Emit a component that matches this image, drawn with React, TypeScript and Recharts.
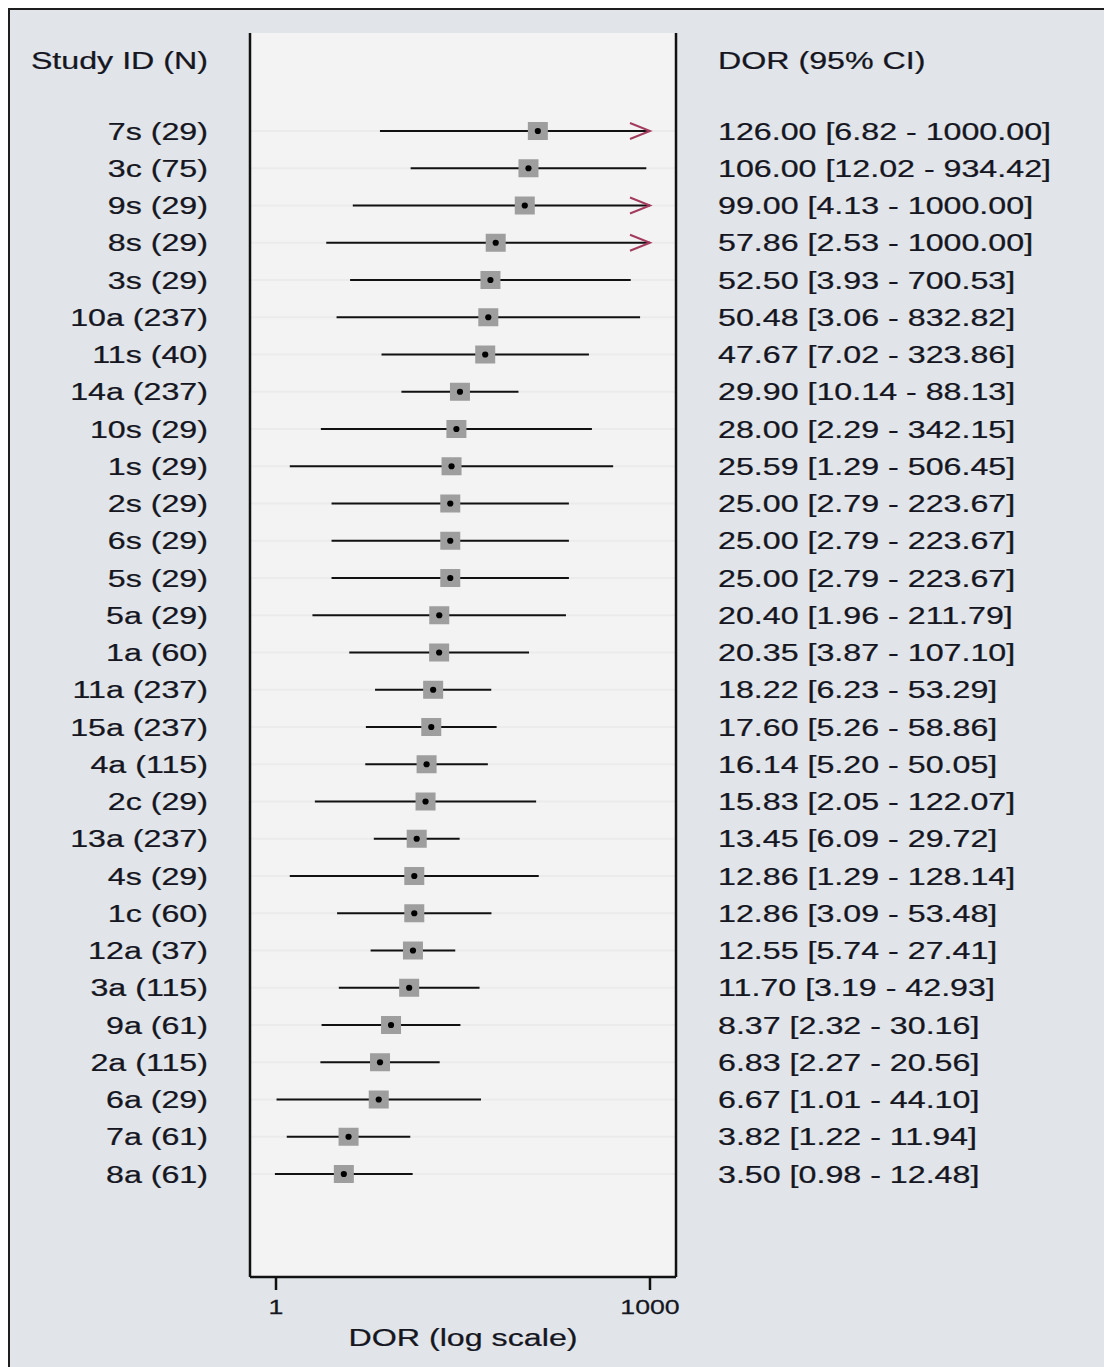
import React from "react";
import {
  ScatterChart,
  Scatter,
  XAxis,
  YAxis,
  CartesianGrid,
  ReferenceLine,
  Label,
} from "recharts";

// study labels, top to bottom
const STUDY_IDS = [
  "7s (29)", "3c (75)", "9s (29)", "8s (29)", "3s (29)", "10a (237)", "11s (40)",
  "14a (237)", "10s (29)", "1s (29)", "2s (29)", "6s (29)", "5s (29)", "5a (29)",
  "1a (60)", "11a (237)", "15a (237)", "4a (115)", "2c (29)", "13a (237)", "4s (29)",
  "1c (60)", "12a (37)", "3a (115)", "9a (61)", "2a (115)", "6a (29)", "7a (61)", "8a (61)",
];

const DOR = [
  126.0, 106.0, 99.0, 57.86, 52.5, 50.48, 47.67, 29.9, 28.0, 25.59, 25.0, 25.0, 25.0, 20.4,
  20.35, 18.22, 17.6, 16.14, 15.83, 13.45, 12.86, 12.86, 12.55, 11.7, 8.37, 6.83, 6.67, 3.82, 3.5,
];

const CI_LOW = [
  6.82, 12.02, 4.13, 2.53, 3.93, 3.06, 7.02, 10.14, 2.29, 1.29, 2.79, 2.79, 2.79, 1.96,
  3.87, 6.23, 5.26, 5.2, 2.05, 6.09, 1.29, 3.09, 5.74, 3.19, 2.32, 2.27, 1.01, 1.22, 0.98,
];

const CI_HIGH = [
  1000.0, 934.42, 1000.0, 1000.0, 700.53, 832.82, 323.86, 88.13, 342.15, 506.45, 223.67,
  223.67, 223.67, 211.79, 107.1, 53.29, 58.86, 50.05, 122.07, 29.72, 128.14, 53.48, 27.41,
  42.93, 30.16, 20.56, 44.1, 11.94, 12.48,
];

const X_TICKS = [1, 1000];
const CI_CAP = 1000;

const rows = STUDY_IDS.map((id, i) => ({
  row: i,
  id,
  dor: DOR[i],
  lo: CI_LOW[i],
  hi: CI_HIGH[i],
}));
const markerData = rows.map((r) => ({ x: r.dor, y: r.row }));
const arrowData = rows.filter((r) => r.hi >= CI_CAP).map((r) => ({ x: r.hi, y: r.row }));

const fmt = (v: number) => v.toFixed(2);
const ciText = (i: number) => `${fmt(DOR[i])} [${fmt(CI_LOW[i])} - ${fmt(CI_HIGH[i])}]`;

// layout
const HEADER_Y = -1.906;
const Y_DOMAIN: [number, number] = [-2.631, 30.765];
const X_DOMAIN: [number, number] = [0.6186, 1617];
const Y_TICKS = [HEADER_Y, ...rows.map((r) => r.row)];

const FONT = "'Liberation Sans', Arial, Helvetica, sans-serif";
const TEXT = "#15161f";
const SX = 1.32;

const StretchText = ({ x, y, anchor, size, children, dy = "0.355em", sx = SX }: any) => (
  <text
    transform={`translate(${x},${y}) scale(${sx},1)`}
    textAnchor={anchor}
    dy={dy}
    fontSize={size}
    fontFamily={FONT}
    fill={TEXT}
    stroke={TEXT}
    strokeWidth={0.25}
  >
    {children}
  </text>
);

const LeftTick = ({ x, y, payload }: any) => (
  <StretchText x={x} y={y} anchor="end" size={24.4}>
    {payload.value === HEADER_Y ? "Study ID (N)" : STUDY_IDS[payload.value]}
  </StretchText>
);

const RightTick = ({ x, y, payload }: any) => (
  <StretchText x={x} y={y} anchor="start" size={24.4}>
    {payload.value === HEADER_Y ? "DOR (95% CI)" : ciText(payload.value)}
  </StretchText>
);

const BottomTick = ({ x, y, payload }: any) => (
  <StretchText x={x} y={y} anchor="middle" size={21} dy="0.71em" sx={1.27}>
    {payload.value}
  </StretchText>
);

const Marker = ({ cx, cy }: any) => (
  <g>
    <rect x={cx - 10} y={cy - 9} width={20} height={18} fill="#9e9e9e" />
    <circle cx={cx} cy={cy} r={3.1} fill="#000" />
  </g>
);

const Arrow = ({ cx, cy }: any) => (
  <polyline
    points={`${cx - 20},${cy - 8} ${cx},${cy} ${cx - 20},${cy + 8}`}
    fill="none"
    stroke="#a33b5c"
    strokeWidth={2}
  />
);

export default function App() {
  return (
    <div
      style={{
        position: "fixed",
        top: 8,
        left: 8,
        right: 0,
        bottom: 0,
        borderTop: "2px solid #1e1e1e",
        borderLeft: "2px solid #1e1e1e",
        background: "#e1e5e9",
      }}
    >
      <ScatterChart
        width={1094}
        height={1357}
        margin={{ top: 23, right: 0, bottom: 0, left: 0 }}
      >
        <CartesianGrid
          horizontal={false}
          vertical={false}
          fill="#f3f3f3"
          fillOpacity={1}
          yAxisId="left"
        />
        <XAxis
          dataKey="x"
          type="number"
          scale="log"
          domain={X_DOMAIN}
          allowDataOverflow
          ticks={X_TICKS}
          interval={0}
          height={90}
          tickSize={13}
          tickMargin={9}
          tickLine={{ stroke: "#111", strokeWidth: 2.5 }}
          axisLine={{ stroke: "#111", strokeWidth: 2.5 }}
          tick={<BottomTick />}
        >
          <Label
            content={({ viewBox }: any) => (
              <StretchText
                x={viewBox.x + viewBox.width / 2}
                y={viewBox.y + 60}
                anchor="middle"
                size={24.4}
              >
                DOR (log scale)
              </StretchText>
            )}
          />
        </XAxis>
        <YAxis
          yAxisId="left"
          dataKey="y"
          type="number"
          reversed
          domain={Y_DOMAIN}
          allowDataOverflow
          ticks={Y_TICKS}
          interval={0}
          width={240}
          tickSize={0}
          tickMargin={42}
          tickLine={false}
          axisLine={{ stroke: "#111", strokeWidth: 2.5 }}
          tick={<LeftTick />}
        />
        <YAxis
          yAxisId="right"
          orientation="right"
          dataKey="y"
          type="number"
          reversed
          domain={Y_DOMAIN}
          allowDataOverflow
          ticks={Y_TICKS}
          interval={0}
          width={428}
          tickSize={0}
          tickMargin={42}
          tickLine={false}
          axisLine={{ stroke: "#111", strokeWidth: 2.5 }}
          tick={<RightTick />}
        />
        {rows.map((r) => (
          <ReferenceLine
            key={`g${r.row}`}
            yAxisId="left"
            y={r.row}
            stroke="#ebebeb"
            strokeWidth={2}
          />
        ))}
        {rows.map((r) => (
          <ReferenceLine
            key={`ci${r.row}`}
            yAxisId="left"
            ifOverflow="visible"
            segment={[
              { x: r.lo, y: r.row },
              { x: r.hi, y: r.row },
            ]}
            stroke="#111"
            strokeWidth={2}
          />
        ))}
        <Scatter
          yAxisId="left"
          data={arrowData}
          shape={<Arrow />}
          isAnimationActive={false}
        />
        <Scatter
          yAxisId="left"
          data={markerData}
          shape={<Marker />}
          isAnimationActive={false}
        />
      </ScatterChart>
    </div>
  );
}
